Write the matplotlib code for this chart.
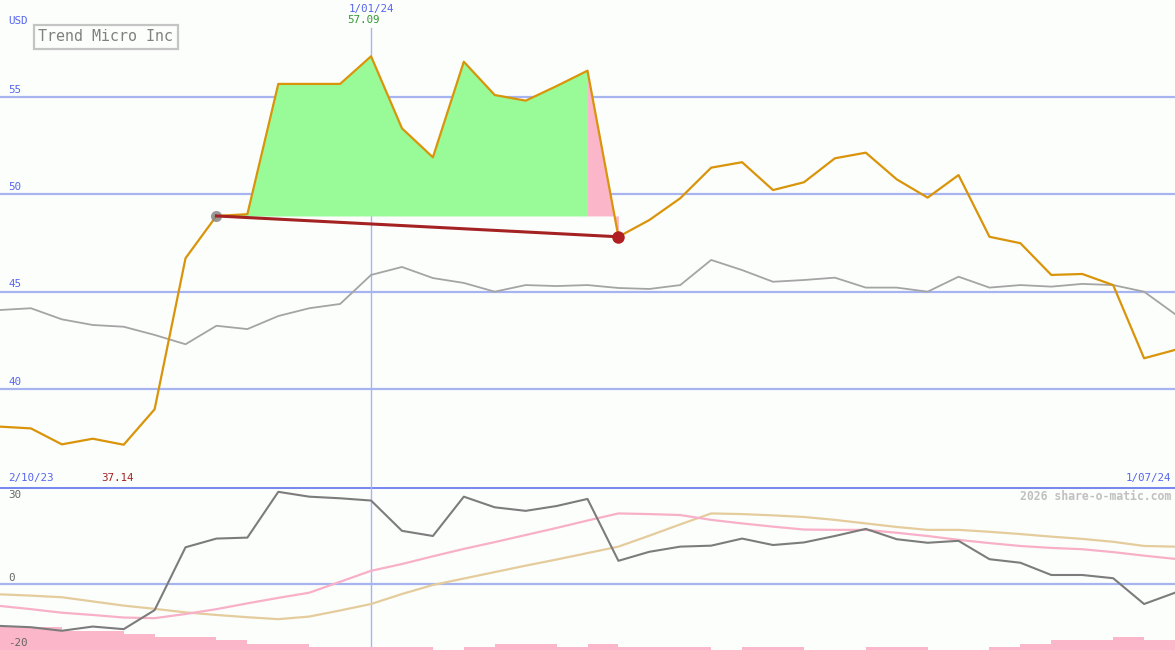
import numpy as np
import matplotlib
matplotlib.use("Agg")
import matplotlib.pyplot as plt

# weekly closing price (USD) and comparison line
price = [38.07, 37.98, 37.16, 37.45, 37.14, 38.96, 46.72, 48.89, 48.98, 55.67,
         55.67, 55.67, 57.09, 53.39, 51.90, 56.81, 55.10, 54.81, 55.56, 56.35,
         47.82, 48.68, 49.80, 51.37, 51.65, 50.22, 50.62, 51.85, 52.14, 50.77,
         49.83, 50.99, 47.82, 47.49, 45.86, 45.91, 45.34, 41.58, 42.01]
compare = [44.06, 44.15, 43.58, 43.29, 43.20, 42.78, 42.30, 43.25, 43.08, 43.75,
           44.15, 44.37, 45.86, 46.27, 45.70, 45.45, 45.00, 45.34, 45.29, 45.34,
           45.19, 45.14, 45.34, 46.63, 46.11, 45.51, 45.60, 45.72, 45.21, 45.21,
           45.00, 45.77, 45.21, 45.34, 45.26, 45.40, 45.34, 45.00, 43.85]

# lower panel indicators
momentum = [-13.1, -13.5, -14.6, -13.3, -14.1, -8.2, 11.3, 14.0, 14.3, 28.5,
            27.0, 26.5, 25.8, 16.4, 14.8, 27.0, 23.7, 22.6, 24.1, 26.3,
            7.1, 9.9, 11.5, 11.8, 14.0, 12.0, 12.8, 14.8, 17.0, 13.8,
            12.7, 13.3, 7.6, 6.5, 2.7, 2.7, 1.7, -6.3, -2.8]
avg_short = [-6.9, -7.9, -9.0, -9.7, -10.5, -10.7, -9.4, -7.9, -6.1, -4.4,
             -2.8, 0.6, 4.0, 6.1, 8.5, 10.8, 12.9, 15.1, 17.3, 19.6,
             21.8, 21.6, 21.3, 19.8, 18.7, 17.7, 16.8, 16.7, 16.7, 15.8,
             14.8, 13.6, 12.6, 11.7, 11.1, 10.7, 9.8, 8.7, 7.7]
avg_long = [-3.3, -3.7, -4.2, -5.5, -6.8, -7.8, -8.9, -9.7, -10.4, -11.0,
            -10.2, -8.3, -6.3, -3.2, -0.4, 1.6, 3.6, 5.6, 7.5, 9.5,
            11.5, 14.9, 18.4, 21.8, 21.6, 21.2, 20.7, 19.8, 18.7, 17.6,
            16.7, 16.7, 16.1, 15.4, 14.6, 13.9, 13.0, 11.7, 11.5]
levels = [7, 7, 6, 6, 5, 4, 4, 3, 2, 2, 1, 1, 1, 1, 0, 1, 2, 2, 1, 2,
          1, 1, 1, 0, 1, 1, 0, 0, 1, 1, 0, 0, 1, 2, 3, 3, 4, 3]

buy_i, sell_i, mark_i = 7, 20, 12
price_ticks = [40, 45, 50, 55]
ind_ticks = [30, 0, -20]

x = np.arange(len(price))
base = price[buy_i]

bg = '#fcfefc'
grid_c = '#a8b4f0'
lab_c = '#5566ee'
mono = 'DejaVu Sans Mono'

fig = plt.figure(figsize=(11.75, 6.5), dpi=100, facecolor=bg)
ax = fig.add_axes([0, 163 / 650, 1, 487 / 650], facecolor=bg)
ax2 = fig.add_axes([0, 0, 1, 163 / 650], facecolor=bg)
for a in (ax, ax2):
    a.set_xlim(0, len(price) - 1)
    a.set_xticks([])
    a.set_yticks([])
    for s in a.spines.values():
        s.set_visible(False)
ax.set_ylim(34.97, 59.98)
ax2.set_ylim(-20.57, 30)

# main panel
for t in price_ticks:
    ax.axhline(t, color=grid_c, lw=1.6, zorder=1)
    ax.text(0.007, t + 0.12, str(t), transform=ax.get_yaxis_transform(),
            color=lab_c, fontsize=7.8, family=mono, va='bottom')
ax.axvline(mark_i, ymax=1 - 28 / 487, color=grid_c, lw=1, zorder=1)

hx = x[buy_i:sell_i]
hp = np.array(price[buy_i:sell_i])
ax.fill_between(hx, hp, base, where=hp >= base, color='#98fb98', lw=0, zorder=2)
px = x[sell_i - 1:sell_i + 1]
pp = np.array(price[sell_i - 1:sell_i + 1])
ax.fill_between(px, pp, base, where=pp >= base - 5, interpolate=True,
                color='#fbb6c9', lw=0, zorder=2)

ax.plot(x, compare, color='#a4a4a4', lw=1.3, zorder=3)
ax.plot(x, price, color='#d9940a', lw=1.6, zorder=4)
ax.plot([buy_i, sell_i], [base, price[sell_i]], color='#a52222', lw=2.2, zorder=5)
ax.plot(buy_i, base, 'o', ms=8, color='#888888', alpha=0.85, mec='none', zorder=4)
ax.plot(sell_i, price[sell_i], 'o', ms=9, color='#b02020', mec='none', zorder=6)

ax.text(0.007, 58.92, 'USD', transform=ax.get_yaxis_transform(), color=lab_c,
        fontsize=7.8, family=mono, va='center')
ax.text(mark_i, 59.52, '1/01/24', color=lab_c, fontsize=7.8,
        family=mono, ha='center', va='center')
ax.text(mark_i - 0.25, 58.95, '%.2f' % max(price), color='#339933', fontsize=7.8,
        family=mono, ha='center', va='center')
ax.text(0.007, 35.42, '2/10/23', transform=ax.get_yaxis_transform(), color=lab_c,
        fontsize=7.8, family=mono, va='center')
ax.text(int(np.argmin(price)) - 0.2, 35.42, '%.2f' % min(price), color='#a52222',
        fontsize=7.8, family=mono, ha='center', va='center')
ax.text(0.997, 35.42, '1/07/24', transform=ax.get_yaxis_transform(), color=lab_c,
        fontsize=7.8, family=mono, ha='right', va='center')
fig.text(38 / 1175, 1 - 36.5 / 650, 'Trend Micro Inc', color='#808080',
         fontsize=10.8, family=mono, va='center', ha='left',
         bbox=dict(boxstyle='square,pad=0.3', fc=bg, ec='#c4c4c4', lw=1.6))

# lower panel
ax2.axhline(30, color='#7788ee', lw=2.2, zorder=1)
ax2.axhline(0, color=grid_c, lw=1.6, zorder=1)
ax2.axvline(mark_i, color=grid_c, lw=1, zorder=1)
ax2.bar(x[:-1], levels, width=1.0, align='edge', bottom=-20.57,
        color='#fbb6c9', lw=0, zorder=2)
ax2.plot(x, avg_long, color='#e4cc9c', lw=1.6, zorder=3)
ax2.plot(x, avg_short, color='#f8b0c8', lw=1.6, zorder=3)
ax2.plot(x, momentum, color='#7c7c7c', lw=1.5, zorder=4)
ind_pos = [27.5, 1.7, -18.3]
for t, yp in zip(ind_ticks, ind_pos):
    ax2.text(0.007, yp, str(t), transform=ax2.get_yaxis_transform(), color='#666666',
             fontsize=7.8, family=mono, va='center')
ax2.text(0.997, 27.2, '2026 share-o-matic.com', transform=ax2.get_yaxis_transform(),
         color='#c0c0c0', fontsize=8.3, family=mono, weight='bold',
         ha='right', va='center')

fig.savefig('out.png', dpi=100, facecolor=bg)
